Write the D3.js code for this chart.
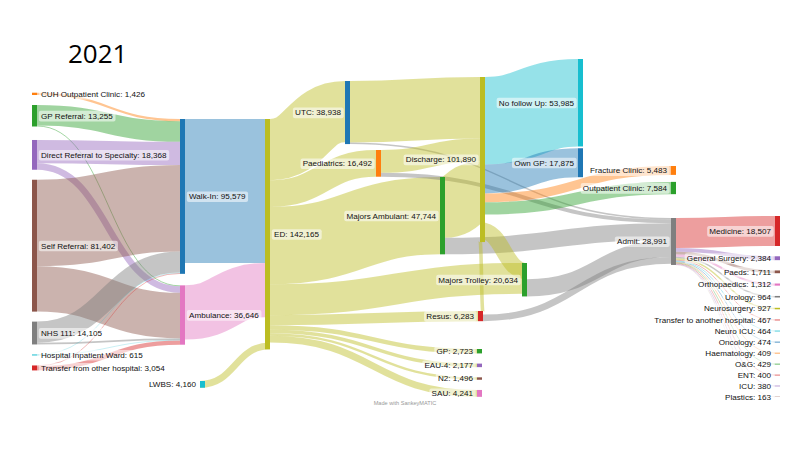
<!DOCTYPE html>
<html>
<head>
<meta charset="utf-8">
<script src="https://cdn.jsdelivr.net/npm/d3@7"></script>
<style>
  body { margin: 0; background: #fff; }
  text { font-family: "Liberation Sans", Arial, sans-serif; }
</style>
</head>
<body>
<svg id="chart" width="800" height="450"></svg>
<script>
// ---- data ----
var nodeNames = [
  "CUH Outpatient Clinic", "GP Referral", "Direct Referral to Specialty", "Self Referral",
  "NHS 111", "Hospital Inpatient Ward", "Transfer from other hospital",
  "Walk-In", "Ambulance", "ED", "LWBS",
  "UTC", "Paediatrics", "Majors Ambulant", "Majors Trolley", "Resus",
  "GP", "EAU-4", "N2", "SAU",
  "Discharge", "Admit",
  "No follow Up", "Own GP", "Fracture Clinic", "Outpatient Clinic",
  "Medicine", "General Surgery", "Paeds", "Orthopaedics", "Urology", "Neurosurgery",
  "Transfer to another hospital", "Neuro ICU", "Oncology", "Haematology", "O&G", "ENT", "ICU", "Plastics"
];
var nodeValues = [
  1426, 13255, 18368, 81402,
  14105, 615, 3054,
  95579, 36646, 142165, 4160,
  38938, 16492, 47744, 20634, 6283,
  2723, 2177, 1496, 4241,
  101890, 28991,
  53985, 17875, 5483, 7584,
  18507, 2384, 1711, 1312, 964, 927,
  467, 464, 474, 409, 429, 400, 380, 163
];
// [source, target, value] - order inside each node follows this list
var flows = [
  ["CUH Outpatient Clinic", "Walk-In", 1426],
  ["GP Referral", "Walk-In", 12655],
  ["GP Referral", "Ambulance", 600],
  ["Direct Referral to Specialty", "Walk-In", 14368],
  ["Direct Referral to Specialty", "Ambulance", 4000],
  ["Self Referral", "Walk-In", 53380],
  ["Self Referral", "Ambulance", 28022],
  ["NHS 111", "Walk-In", 13000],
  ["NHS 111", "Ambulance", 1105],
  ["Hospital Inpatient Ward", "Walk-In", 300],
  ["Hospital Inpatient Ward", "Ambulance", 315],
  ["Transfer from other hospital", "Walk-In", 450],
  ["Transfer from other hospital", "Ambulance", 2604],
  ["Walk-In", "ED", 88900],
  ["Ambulance", "ED", 33500],
  ["ED", "UTC", 37800],
  ["ED", "Paediatrics", 16492],
  ["ED", "Majors Ambulant", 47744],
  ["ED", "Majors Trolley", 19049],
  ["ED", "Resus", 6283],
  ["ED", "GP", 2723],
  ["ED", "EAU-4", 2177],
  ["ED", "N2", 1496],
  ["ED", "SAU", 4241],
  ["ED", "LWBS", 4160],
  ["UTC", "Discharge", 38038],
  ["UTC", "Admit", 900],
  ["Paediatrics", "Discharge", 14092],
  ["Paediatrics", "Admit", 2400],
  ["Majors Ambulant", "Discharge", 37494],
  ["Majors Ambulant", "Admit", 10250],
  ["Majors Trolley", "Discharge", 10066],
  ["Majors Trolley", "Admit", 10568],
  ["Resus", "Discharge", 2200],
  ["Resus", "Admit", 4083],
  ["Discharge", "No follow Up", 53985],
  ["Discharge", "Own GP", 17875],
  ["Discharge", "Fracture Clinic", 5483],
  ["Discharge", "Outpatient Clinic", 7584],
  ["Admit", "Medicine", 18507],
  ["Admit", "General Surgery", 2384],
  ["Admit", "Paeds", 1711],
  ["Admit", "Orthopaedics", 1312],
  ["Admit", "Urology", 964],
  ["Admit", "Neurosurgery", 927],
  ["Admit", "Transfer to another hospital", 467],
  ["Admit", "Neuro ICU", 464],
  ["Admit", "Oncology", 474],
  ["Admit", "Haematology", 409],
  ["Admit", "O&G", 429],
  ["Admit", "ENT", 400],
  ["Admit", "ICU", 380],
  ["Admit", "Plastics", 163]
];
var title = "2021";

// ---- styles / layout ----
var blue = "#1f77b4", orange = "#ff7f0e", green = "#2ca02c", red = "#d62728", purple = "#9467bd",
    brown = "#8c564b", pink = "#e377c2", gray = "#7f7f7f", olive = "#bcbd22", cyan = "#17becf";
var nodeColors = {
  "CUH Outpatient Clinic": orange, "GP Referral": green, "Direct Referral to Specialty": purple,
  "Self Referral": brown, "NHS 111": gray, "Hospital Inpatient Ward": cyan,
  "Transfer from other hospital": red, "Walk-In": blue, "Ambulance": pink, "ED": olive,
  "LWBS": cyan, "UTC": blue, "Paediatrics": orange, "Majors Ambulant": green,
  "Majors Trolley": green, "Resus": red, "GP": green, "EAU-4": purple, "N2": brown, "SAU": pink,
  "Discharge": olive, "Admit": gray, "No follow Up": cyan, "Own GP": blue,
  "Fracture Clinic": orange, "Outpatient Clinic": green, "Medicine": red,
  "General Surgery": purple, "Paeds": brown, "Orthopaedics": pink, "Urology": gray,
  "Neurosurgery": olive, "Transfer to another hospital": red, "Neuro ICU": cyan,
  "Oncology": blue, "Haematology": orange, "O&G": green, "ENT": red, "ICU": purple, "Plastics": brown
};

// node groups: x position, top of the stack, gap between nodes
var columns = [
  {x: 32, top: 92.7, pad: 10, nodes: ["CUH Outpatient Clinic", "GP Referral", "Direct Referral to Specialty",
    "Self Referral", "NHS 111", "Hospital Inpatient Ward", "Transfer from other hospital"]},
  {x: 180, top: 119, pad: 11.5, nodes: ["Walk-In", "Ambulance"]},
  {x: 265, top: 119, nodes: ["ED"]},
  {x: 200, top: 381, nodes: ["LWBS"]},
  {x: 345, top: 81, nodes: ["UTC"]},
  {x: 376, top: 150, nodes: ["Paediatrics"]},
  {x: 440, top: 177, nodes: ["Majors Ambulant"]},
  {x: 480, top: 77, nodes: ["Discharge"]},
  {x: 522, top: 263, nodes: ["Majors Trolley"]},
  {x: 478, top: 311, nodes: ["Resus"]},
  {x: 477, top: 349, pad: 10.2, nodes: ["GP", "EAU-4", "N2", "SAU"]},
  {x: 578, top: 59, pad: 1.8, nodes: ["No follow Up", "Own GP"]},
  {x: 671, top: 166, pad: 7, nodes: ["Fracture Clinic", "Outpatient Clinic"]},
  {x: 671, top: 218, nodes: ["Admit"]},
  {x: 775, top: 216, pad: 10.3, nodes: ["Medicine", "General Surgery", "Paeds", "Orthopaedics",
    "Urology", "Neurosurgery", "Transfer to another hospital", "Neuro ICU", "Oncology",
    "Haematology", "O&G", "ENT", "ICU", "Plastics"]}
];
var nudges = {"Direct Referral to Specialty": 3.5};
var nodeWidth = 5;

var svg = d3.select("#chart");
var h = d3.scaleLinear().domain([0, 100000]).range([0, 162]);
var fmt = d3.format(",");

// build nodes
var nodes = {};
nodeNames.forEach(function(name, i) {
  nodes[name] = {name: name, value: nodeValues[i], outs: [], ins: [], depth: 0};
});
var links = flows.map(function(f) {
  var l = {source: nodes[f[0]], target: nodes[f[1]], value: f[2]};
  l.source.outs.push(l);
  l.target.ins.push(l);
  return l;
});

// depth = longest path from a source (used for label side and flow colour)
var changed = true;
while (changed) {
  changed = false;
  links.forEach(function(l) {
    if (l.target.depth < l.source.depth + 1) { l.target.depth = l.source.depth + 1; changed = true; }
  });
}
var maxDepth = d3.max(nodeNames, function(n) { return nodes[n].depth; });

// stack nodes in their groups
columns.forEach(function(col) {
  var y = col.top;
  col.nodes.forEach(function(name) {
    var n = nodes[name];
    y += nudges[name] || 0;
    n.x0 = col.x; n.x1 = col.x + nodeWidth;
    n.y0 = y; n.y1 = y + h(n.value);
    y = n.y1 + (col.pad || 0);
  });
});

// stack the flows at both ends
nodeNames.forEach(function(name) {
  var n = nodes[name], y = n.y0;
  n.outs.forEach(function(l) { l.w = h(l.value); l.sy = y + l.w / 2; y += l.w; });
  y = n.y0;
  n.ins.forEach(function(l) { l.ty = y + h(l.value) / 2; y += h(l.value); });
});

var link = d3.linkHorizontal();

svg.append("g")
  .selectAll("path")
  .data(links)
  .enter().append("path")
  .attr("d", function(l) { return link({source: [l.source.x1, l.sy], target: [l.target.x0, l.ty]}); })
  .attr("fill", "none")
  .attr("stroke", function(l) {
    return l.source.depth < maxDepth / 2 ? nodeColors[l.source.name] : nodeColors[l.target.name];
  })
  .attr("stroke-opacity", 0.45)
  .attr("stroke-width", function(l) { return l.w; });

var nodeList = nodeNames.map(function(n) { return nodes[n]; });

svg.append("g")
  .selectAll("rect")
  .data(nodeList)
  .enter().append("rect")
  .attr("x", function(d) { return d.x0; })
  .attr("y", function(d) { return d.y0; })
  .attr("width", nodeWidth)
  .attr("height", function(d) { return d.y1 - d.y0; })
  .attr("fill", function(d) { return nodeColors[d.name]; });

// labels with a soft highlight box
var labels = svg.append("g")
  .selectAll("g")
  .data(nodeList)
  .enter().append("g");

labels.append("text")
  .attr("x", function(d) { return d.depth >= maxDepth / 2 ? d.x0 - 4 : d.x1 + 4; })
  .attr("y", function(d) { return (d.y0 + d.y1) / 2; })
  .attr("dy", "0.35em")
  .attr("text-anchor", function(d) { return d.depth >= maxDepth / 2 ? "end" : "start"; })
  .attr("font-size", 8.1)
  .attr("fill", "#111")
  .text(function(d) { return d.name + ": " + fmt(d.value); });

labels.each(function() {
  var g = d3.select(this);
  var b = g.select("text").node().getBBox();
  g.insert("rect", "text")
    .attr("x", b.x - 2.2)
    .attr("y", b.y - 0.8)
    .attr("width", b.width + 4.4)
    .attr("height", b.height + 1.6)
    .attr("rx", 2)
    .attr("fill", "#fff")
    .attr("fill-opacity", 0.55);
});

svg.append("text")
  .attr("x", 68)
  .attr("y", 62.5)
  .attr("font-size", 26)
  .style("font-family", "'Open Sans', sans-serif")
  .attr("fill", "#000")
  .text(title);

svg.append("text")
  .attr("x", 405)
  .attr("y", 405)
  .attr("text-anchor", "middle")
  .attr("font-size", 5.6)
  .attr("fill", "#999")
  .text("Made with SankeyMATIC");
</script>
</body>
</html>
